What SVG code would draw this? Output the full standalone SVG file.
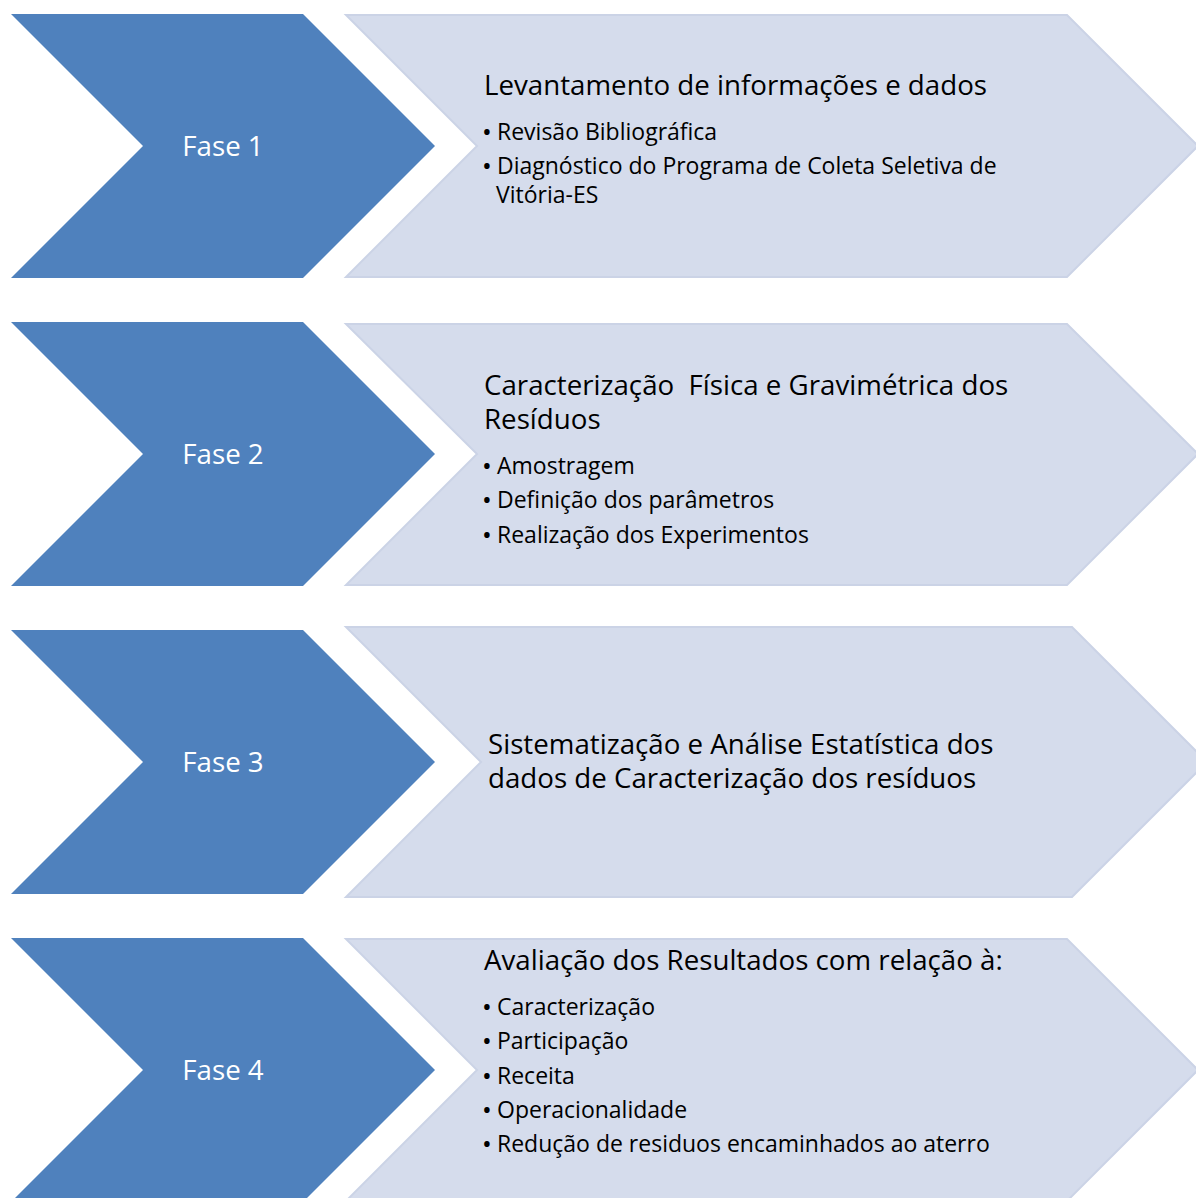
<svg xmlns="http://www.w3.org/2000/svg" width="1196" height="1198" viewBox="0 0 1196 1198">
  <style>
    .phase { fill: #4f81bd; }
    .panel { fill: #d5dcec; stroke: #cbd3e6; stroke-width: 2; }
    .label { font-family: "Open Sans", "DejaVu Sans", sans-serif; font-size: 27.7px; fill: #ffffff; text-anchor: middle; }
    .head { font-family: "Open Sans", "DejaVu Sans", sans-serif; font-size: 27.7px; fill: #000000; }
    .item { font-family: "Open Sans", "DejaVu Sans", sans-serif; font-size: 23px; fill: #000000; }
    .dot { font-size: 26px; }
  </style>
  <rect width="1196" height="1198" fill="#ffffff"/>

  <!-- Phase 1 -->
  <g id="fase1">
    <polygon class="panel" points="346,15 1067,15 1198,146 1067,277 346,277 477,146"/>
    <polygon class="phase" points="11,14 303,14 435,146 303,278 11,278 143,146"/>
    <text class="label" x="223" y="156">Fase 1</text>
    <text class="head" x="484" y="95">Levantamento de informações e dados</text>
    <text class="item"><tspan class="dot" x="482" y="141">•</tspan><tspan x="497" y="140">Revisão Bibliográfica</tspan></text>
    <text class="item"><tspan class="dot" x="482" y="175">•</tspan><tspan x="497" y="174">Diagnóstico do Programa de Coleta Seletiva de</tspan><tspan x="496" y="203">Vitória-ES</tspan></text>
  </g>

  <!-- Phase 2 -->
  <g id="fase2">
    <polygon class="panel" points="346,324 1067,324 1198,454 1067,585 346,585 477,454"/>
    <polygon class="phase" points="11,322 303,322 435,454 303,586 11,586 143,454"/>
    <text class="label" x="223" y="464">Fase 2</text>
    <text class="head" xml:space="preserve"><tspan x="484" y="395">Caracterização  Física e Gravimétrica dos</tspan><tspan x="484" y="429">Resíduos</tspan></text>
    <text class="item"><tspan class="dot" x="482" y="475">•</tspan><tspan x="497" y="474">Amostragem</tspan></text>
    <text class="item"><tspan class="dot" x="482" y="509">•</tspan><tspan x="497" y="508">Definição dos parâmetros</tspan></text>
    <text class="item"><tspan class="dot" x="482" y="544">•</tspan><tspan x="497" y="543">Realização dos Experimentos</tspan></text>
  </g>

  <!-- Phase 3 -->
  <g id="fase3">
    <polygon class="panel" points="346,627 1072,627 1207,762 1072,897 346,897 481,762"/>
    <polygon class="phase" points="11,630 303,630 435,762 303,894 11,894 143,762"/>
    <text class="label" x="223" y="772">Fase 3</text>
    <text class="head"><tspan x="488" y="754">Sistematização e Análise Estatística dos</tspan><tspan x="488" y="788">dados de Caracterização dos resíduos</tspan></text>
  </g>

  <!-- Phase 4 -->
  <g id="fase4">
    <polygon class="panel" points="346,939 1067,939 1198,1070 1067,1201 346,1201 477,1070"/>
    <polygon class="phase" points="11,938 303,938 435,1070 303,1202 11,1202 143,1070"/>
    <text class="label" x="223" y="1080">Fase 4</text>
    <text class="head" x="484" y="970">Avaliação dos Resultados com relação à:</text>
    <text class="item"><tspan class="dot" x="482" y="1016">•</tspan><tspan x="497" y="1015">Caracterização</tspan></text>
    <text class="item"><tspan class="dot" x="482" y="1050">•</tspan><tspan x="497" y="1049">Participação</tspan></text>
    <text class="item"><tspan class="dot" x="482" y="1085">•</tspan><tspan x="497" y="1084">Receita</tspan></text>
    <text class="item"><tspan class="dot" x="482" y="1119">•</tspan><tspan x="497" y="1118">Operacionalidade</tspan></text>
    <text class="item"><tspan class="dot" x="482" y="1153">•</tspan><tspan x="497" y="1152">Redução de residuos encaminhados ao aterro</tspan></text>
  </g>

  <!-- no connectors: the chevrons abut directly -->
  <g id="connectors"/>
</svg>
